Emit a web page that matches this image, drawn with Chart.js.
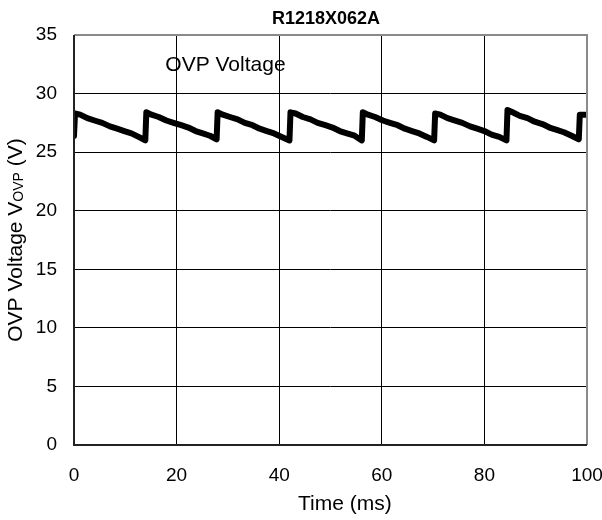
<!DOCTYPE html>
<html><head><meta charset="utf-8">
<script src="https://cdn.jsdelivr.net/npm/chart.js@4"></script>
<style>html,body{margin:0;padding:0;background:#fff}#wrap{width:602px;height:520px}</style>
</head><body><div id="wrap"><canvas id="c" width="602" height="520"></canvas></div>
<script>
const chartTitle = "R1218X062A";
const seriesLabel = "OVP Voltage";
const xTitle = "Time (ms)";
const xTicks = [0, 20, 40, 60, 80, 100];
const yTicks = [0, 5, 10, 15, 20, 25, 30, 35];
const timeMs = [
0, 0.2, 1.2, 2.6, 4.0, 5.5, 7.0, 8.4, 9.8, 11.2, 12.6, 13.9,
14.1, 15.1, 16.5, 18.0, 19.4, 20.9, 22.3, 23.7, 25.1, 26.5, 27.8,
28.0, 29.0, 30.4, 31.9, 33.3, 34.8, 36.2, 37.6, 39.0, 40.5, 42.0,
42.2, 43.2, 44.6, 46.1, 47.5, 49.0, 50.4, 51.8, 53.2, 54.7, 56.1,
56.3, 57.3, 58.7, 60.2, 61.6, 63.1, 64.5, 65.9, 67.3, 68.8, 70.2,
70.4, 71.4, 72.8, 74.3, 75.7, 77.2, 78.6, 80.0, 81.4, 82.9, 84.3,
84.5, 85.5, 86.9, 88.4, 89.8, 91.3, 92.7, 94.1, 95.5, 97.0, 98.4,
98.6, 99.0, 99.8];
const voltage = [
26.4, 28.3, 28.2, 27.9, 27.7, 27.5, 27.2, 27.0, 26.8, 26.6, 26.3, 26.0,
28.4, 28.2, 28.0, 27.7, 27.5, 27.3, 27.1, 26.8, 26.6, 26.4, 26.1,
28.4, 28.2, 28.0, 27.8, 27.5, 27.3, 27.0, 26.8, 26.6, 26.3, 26.0,
28.4, 28.3, 28.0, 27.8, 27.5, 27.3, 27.1, 26.8, 26.6, 26.4, 26.0,
28.4, 28.2, 28.0, 27.7, 27.5, 27.3, 27.0, 26.8, 26.6, 26.3, 26.0,
28.3, 28.2, 27.9, 27.7, 27.5, 27.2, 27.0, 26.8, 26.5, 26.3, 26.0,
28.6, 28.4, 28.1, 27.9, 27.6, 27.4, 27.1, 26.9, 26.7, 26.4, 26.1,
28.2, 28.2, 28.2];

const FONT = "'Liberation Sans', Arial, sans-serif";
const points = timeMs.map((t, i) => ({x: t, y: voltage[i]}));

const textPlugin = {
  id: 'texts',
  afterDraw(chart) {
    const ctx = chart.ctx, a = chart.chartArea;
    const xs = chart.scales.x, ys = chart.scales.y;
    ctx.save();
    ctx.strokeStyle = '#8a8a8a'; ctx.lineWidth = 2;
    ctx.beginPath();
    ctx.moveTo(a.left, a.top); ctx.lineTo(a.right, a.top); ctx.lineTo(a.right, a.bottom);
    ctx.stroke();
    ctx.strokeStyle = '#222'; ctx.lineWidth = 2;
    ctx.beginPath();
    ctx.moveTo(a.left, a.top); ctx.lineTo(a.left, a.bottom); ctx.lineTo(a.right, a.bottom);
    ctx.stroke();
    ctx.fillStyle = '#000';
    ctx.font = "bold 18px " + FONT;
    ctx.textAlign = 'left'; ctx.textBaseline = 'middle';
    ctx.fillText(chartTitle, 272, 19);
    ctx.font = "21px " + FONT;
    ctx.fillText(seriesLabel, xs.getPixelForValue(17.8), ys.getPixelForValue(32.4));
    ctx.fillText(xTitle, 298, 504);
    ctx.translate(16, (a.top + a.bottom) / 2);
    ctx.rotate(-Math.PI / 2);
    const parts = [["OVP Voltage V", "21px", 0], ["OVP", "14px", 3], [" (V)", "21px", 0]];
    let total = 0;
    parts.forEach(p => { ctx.font = p[1] + " " + FONT; total += ctx.measureText(p[0]).width; });
    let x = -total / 2;
    parts.forEach(p => {
      ctx.font = p[1] + " " + FONT;
      ctx.fillText(p[0], x, p[2]);
      x += ctx.measureText(p[0]).width;
    });
    ctx.restore();
  }
};

new Chart(document.getElementById('c'), {
  type: 'line',
  data: { datasets: [{ data: points, borderColor: '#000', borderWidth: 6, pointRadius: 0, tension: 0, fill: false, borderJoinStyle: 'round', borderCapStyle: 'round' }] },
  options: {
    responsive: false, animation: false,
    layout: { padding: { top: 35, right: 15, left: 0, bottom: 0 } },
    plugins: { legend: { display: false }, tooltip: { enabled: false } },
    scales: {
      x: {
        type: 'linear', min: 0, max: 100,
        afterBuildTicks: s => { s.ticks = xTicks.map(v => ({value: v})); },
        afterFit: s => { s.height = 75; s.paddingLeft = 0; s.paddingRight = 0; },
        ticks: { color: '#000', font: { family: FONT, size: 19 }, padding: 19, maxRotation: 0 },
        grid: { color: '#000', lineWidth: 1, drawTicks: false },
        border: { display: false }
      },
      y: {
        min: 0, max: 35,
        afterBuildTicks: s => { s.ticks = yTicks.map(v => ({value: v})); },
        afterFit: s => { s.width = 74; s.paddingTop = 0; s.paddingBottom = 0; },
        ticks: { color: '#000', font: { family: FONT, size: 19 }, padding: 17 },
        grid: { color: '#000', lineWidth: 1, drawTicks: false },
        border: { display: false }
      }
    }
  },
  plugins: [textPlugin]
});
</script></body></html>
